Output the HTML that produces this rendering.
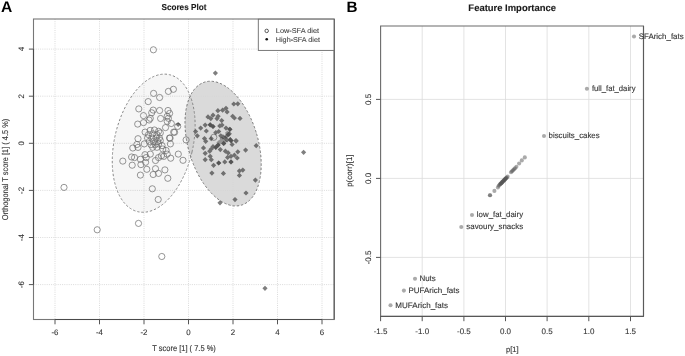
<!DOCTYPE html>
<html><head><meta charset="utf-8"><style>
html,body{margin:0;padding:0;background:#fff;}
body{width:685px;height:356px;overflow:hidden;font-family:"Liberation Sans",sans-serif;}
svg{display:block;text-rendering:geometricPrecision;}
#w{width:685px;height:356px;will-change:transform;}
</style></head><body><div id="w">
<svg width="685" height="356" viewBox="0 0 685 356">
<g>
<rect width="685" height="356" fill="#fff"/>
<g stroke="#d2d2d2" stroke-width="0.8" stroke-dasharray="1 1.2"><line x1="55.0" y1="19.0" x2="55.0" y2="319.5"/><line x1="99.5" y1="19.0" x2="99.5" y2="319.5"/><line x1="144.0" y1="19.0" x2="144.0" y2="319.5"/><line x1="188.5" y1="19.0" x2="188.5" y2="319.5"/><line x1="233.0" y1="19.0" x2="233.0" y2="319.5"/><line x1="277.5" y1="19.0" x2="277.5" y2="319.5"/><line x1="322.0" y1="19.0" x2="322.0" y2="319.5"/><line x1="33.5" y1="284.6" x2="334.2" y2="284.6"/><line x1="33.5" y1="237.5" x2="334.2" y2="237.5"/><line x1="33.5" y1="190.4" x2="334.2" y2="190.4"/><line x1="33.5" y1="143.3" x2="334.2" y2="143.3"/><line x1="33.5" y1="96.2" x2="334.2" y2="96.2"/><line x1="33.5" y1="49.1" x2="334.2" y2="49.1"/></g>
<ellipse cx="223.1" cy="143.6" rx="34.9" ry="64.2" transform="rotate(-16.5 223.1 143.6)" fill="#d3d3d3" fill-opacity="0.85" stroke="#7a7a7a" stroke-width="0.9" stroke-dasharray="2.4 1.9"/>
<ellipse cx="153.7" cy="143.2" rx="39.3" ry="70.3" transform="rotate(13 153.7 143.2)" fill="#000" fill-opacity="0.035" stroke="#868686" stroke-width="0.9" stroke-dasharray="2.4 1.9"/>
<g fill="none" stroke="#6a6a6a" stroke-width="0.7"><circle cx="153.6" cy="93.4" r="3.1"/><circle cx="159.6" cy="97.5" r="3.1"/><circle cx="168.4" cy="91.4" r="3.1"/><circle cx="173.4" cy="89.3" r="3.1"/><circle cx="148.2" cy="101.6" r="3.1"/><circle cx="138.8" cy="108.9" r="3.1"/><circle cx="153.2" cy="110.1" r="3.1"/><circle cx="159.6" cy="110.5" r="3.1"/><circle cx="168" cy="110.5" r="3.1"/><circle cx="151.7" cy="112.8" r="3.1"/><circle cx="143.5" cy="115.6" r="3.1"/><circle cx="169.6" cy="113.4" r="3.1"/><circle cx="150.3" cy="118.3" r="3.1"/><circle cx="160.6" cy="118.5" r="3.1"/><circle cx="167.2" cy="116.3" r="3.1"/><circle cx="168.4" cy="118.3" r="3.1"/><circle cx="149.1" cy="120" r="3.1"/><circle cx="137.7" cy="124.1" r="3.1"/><circle cx="143.5" cy="122.6" r="3.1"/><circle cx="167.2" cy="121.4" r="3.1"/><circle cx="171.3" cy="123.5" r="3.1"/><circle cx="165.5" cy="127.6" r="3.1"/><circle cx="174.6" cy="132.3" r="3.1"/><circle cx="177.7" cy="126.4" r="3.1"/><circle cx="170.1" cy="138.1" r="3.1"/><circle cx="170.4" cy="143.9" r="3.1"/><circle cx="186.1" cy="139.9" r="3.1"/><circle cx="150.2" cy="130.4" r="3.1"/><circle cx="154.4" cy="130" r="3.1"/><circle cx="158.6" cy="131.3" r="3.1"/><circle cx="148.5" cy="134.6" r="3.1"/><circle cx="152.7" cy="133.8" r="3.1"/><circle cx="156.9" cy="134.6" r="3.1"/><circle cx="160.3" cy="132.9" r="3.1"/><circle cx="147.6" cy="138" r="3.1"/><circle cx="151.8" cy="138" r="3.1"/><circle cx="156.1" cy="138" r="3.1"/><circle cx="159.4" cy="138" r="3.1"/><circle cx="149.3" cy="141.4" r="3.1"/><circle cx="153.5" cy="141.4" r="3.1"/><circle cx="157.7" cy="141.4" r="3.1"/><circle cx="160.3" cy="140.5" r="3.1"/><circle cx="151" cy="144.7" r="3.1"/><circle cx="155.2" cy="144.7" r="3.1"/><circle cx="158.6" cy="143.9" r="3.1"/><circle cx="152.7" cy="147.3" r="3.1"/><circle cx="156.9" cy="147.3" r="3.1"/><circle cx="162" cy="145.6" r="3.1"/><circle cx="162.8" cy="149" r="3.1"/><circle cx="145.1" cy="132.1" r="3.1"/><circle cx="144.3" cy="143.9" r="3.1"/><circle cx="138" cy="138.7" r="3.1"/><circle cx="136.9" cy="144.5" r="3.1"/><circle cx="132.8" cy="148" r="3.1"/><circle cx="138" cy="147.4" r="3.1"/><circle cx="166.1" cy="150.4" r="3.1"/><circle cx="169.5" cy="138" r="3.1"/><circle cx="173.7" cy="132.1" r="3.1"/><circle cx="122.8" cy="161.1" r="3.1"/><circle cx="131.6" cy="157" r="3.1"/><circle cx="134.5" cy="157.6" r="3.1"/><circle cx="132.2" cy="165.2" r="3.1"/><circle cx="140.4" cy="159.3" r="3.1"/><circle cx="140.9" cy="164.6" r="3.1"/><circle cx="145" cy="154.7" r="3.1"/><circle cx="146.2" cy="157.6" r="3.1"/><circle cx="145.6" cy="162.3" r="3.1"/><circle cx="150.3" cy="154.1" r="3.1"/><circle cx="146.8" cy="169.3" r="3.1"/><circle cx="140.4" cy="175.1" r="3.1"/><circle cx="155.5" cy="160.5" r="3.1"/><circle cx="158.5" cy="157.6" r="3.1"/><circle cx="161.4" cy="155.8" r="3.1"/><circle cx="163.7" cy="156.4" r="3.1"/><circle cx="167.2" cy="154.1" r="3.1"/><circle cx="170.7" cy="158.2" r="3.1"/><circle cx="178.3" cy="154.1" r="3.1"/><circle cx="183" cy="160.3" r="3.1"/><circle cx="155.5" cy="168.7" r="3.1"/><circle cx="153.2" cy="174.5" r="3.1"/><circle cx="158.5" cy="173.4" r="3.1"/><circle cx="164.9" cy="169.9" r="3.1"/><circle cx="167.8" cy="178.3" r="3.1"/><circle cx="152.3" cy="188.8" r="3.1"/><circle cx="158.2" cy="199.5" r="3.1"/><circle cx="153.4" cy="49.8" r="3.1"/><circle cx="64" cy="187.4" r="3.1"/><circle cx="97.2" cy="229.8" r="3.1"/><circle cx="138.5" cy="223.4" r="3.1"/><circle cx="161.8" cy="256.5" r="3.1"/><circle cx="213.8" cy="137.3" r="3.1"/></g>
<path fill="#2a2a2a" fill-opacity="0.6" d="M212.8 73.1L215.4 70.5L218.0 73.1L215.4 75.7ZM231.2 104.0L233.8 101.4L236.4 104.0L233.8 106.6ZM235.2 103.8L237.8 101.2L240.4 103.8L237.8 106.4ZM215.3 110.7L217.9 108.1L220.5 110.7L217.9 113.3ZM220.0 110.2L222.6 107.6L225.2 110.2L222.6 112.8ZM223.4 108.3L226.0 105.7L228.6 108.3L226.0 110.9ZM224.5 111.9L227.1 109.3L229.7 111.9L227.1 114.5ZM205.4 116.9L208.0 114.3L210.6 116.9L208.0 119.5ZM210.4 115.2L213.0 112.6L215.6 115.2L213.0 117.8ZM208.2 118.6L210.8 116.0L213.4 118.6L210.8 121.2ZM215.5 116.3L218.1 113.7L220.7 116.3L218.1 118.9ZM214.4 118.6L217.0 116.0L219.6 118.6L217.0 121.2ZM219.1 120.6L221.7 118.0L224.3 120.6L221.7 123.2ZM230.1 116.3L232.7 113.7L235.3 116.3L232.7 118.9ZM231.8 118.0L234.4 115.4L237.0 118.0L234.4 120.6ZM237.4 118.4L240.0 115.8L242.6 118.4L240.0 121.0ZM198.1 128.1L200.7 125.5L203.3 128.1L200.7 130.7ZM193.0 131.5L195.6 128.9L198.2 131.5L195.6 134.1ZM194.7 135.8L197.3 133.2L199.9 135.8L197.3 138.4ZM202.6 125.1L205.2 122.5L207.8 125.1L205.2 127.7ZM207.6 124.8L210.2 122.2L212.8 124.8L210.2 127.4ZM210.4 126.5L213.0 123.9L215.6 126.5L213.0 129.1ZM203.7 131.0L206.3 128.4L208.9 131.0L206.3 133.6ZM217.2 125.9L219.8 123.3L222.4 125.9L219.8 128.5ZM219.4 125.1L222.0 122.5L224.6 125.1L222.0 127.7ZM223.4 128.1L226.0 125.5L228.6 128.1L226.0 130.7ZM227.3 129.3L229.9 126.7L232.5 129.3L229.9 131.9ZM213.2 132.6L215.8 130.0L218.4 132.6L215.8 135.2ZM216.1 131.5L218.7 128.9L221.3 131.5L218.7 134.1ZM226.7 133.8L229.3 131.2L231.9 133.8L229.3 136.4ZM175.6 124.5L178.2 121.9L180.8 124.5L178.2 127.1ZM225.5 134.7L228.1 132.1L230.7 134.7L228.1 137.3ZM218.2 135.8L220.8 133.2L223.4 135.8L220.8 138.4ZM220.4 136.9L223.0 134.3L225.6 136.9L223.0 139.5ZM222.7 138.0L225.3 135.4L227.9 138.0L225.3 140.6ZM227.7 139.7L230.3 137.1L232.9 139.7L230.3 142.3ZM233.4 140.6L236.0 138.0L238.6 140.6L236.0 143.2ZM208.6 138.6L211.2 136.0L213.8 138.6L211.2 141.2ZM201.9 138.6L204.5 136.0L207.1 138.6L204.5 141.2ZM203.1 141.3L205.7 138.7L208.3 141.3L205.7 143.9ZM200.9 147.9L203.5 145.3L206.1 147.9L203.5 150.5ZM202.6 153.3L205.2 150.7L207.8 153.3L205.2 155.9ZM202.6 159.7L205.2 157.1L207.8 159.7L205.2 162.3ZM207.1 151.2L209.7 148.6L212.3 151.2L209.7 153.8ZM208.7 149.0L211.3 146.4L213.9 149.0L211.3 151.6ZM210.4 146.7L213.0 144.1L215.6 146.7L213.0 149.3ZM213.2 147.3L215.8 144.7L218.4 147.3L215.8 149.9ZM215.5 145.1L218.1 142.5L220.7 145.1L218.1 147.7ZM217.7 149.6L220.3 147.0L222.9 149.6L220.3 152.2ZM207.6 156.3L210.2 153.7L212.8 156.3L210.2 158.9ZM208.7 159.7L211.3 157.1L213.9 159.7L211.3 162.3ZM211.0 165.3L213.6 162.7L216.2 165.3L213.6 167.9ZM216.1 163.0L218.7 160.4L221.3 163.0L218.7 165.6ZM222.2 161.9L224.8 159.3L227.4 161.9L224.8 164.5ZM221.1 143.4L223.7 140.8L226.3 143.4L223.7 146.0ZM224.5 140.0L227.1 137.4L229.7 140.0L227.1 142.6ZM228.4 140.6L231.0 138.0L233.6 140.6L231.0 143.2ZM229.5 144.5L232.1 141.9L234.7 144.5L232.1 147.1ZM233.5 141.1L236.1 138.5L238.7 141.1L236.1 143.7ZM222.8 151.2L225.4 148.6L228.0 151.2L225.4 153.8ZM225.6 152.9L228.2 150.3L230.8 152.9L228.2 155.5ZM225.0 157.4L227.6 154.8L230.2 157.4L227.6 160.0ZM228.4 156.3L231.0 153.7L233.6 156.3L231.0 158.9ZM231.8 155.2L234.4 152.6L237.0 155.2L234.4 157.8ZM234.6 158.0L237.2 155.4L239.8 158.0L237.2 160.6ZM235.2 151.8L237.8 149.2L240.4 151.8L237.8 154.4ZM243.0 150.1L245.6 147.5L248.2 150.1L245.6 152.7ZM228.4 161.9L231.0 159.3L233.6 161.9L231.0 164.5ZM209.3 173.1L211.9 170.5L214.5 173.1L211.9 175.7ZM220.8 173.4L223.4 170.8L226.0 173.4L223.4 176.0ZM236.8 170.9L239.4 168.3L242.0 170.9L239.4 173.5ZM240.2 170.1L242.8 167.5L245.4 170.1L242.8 172.7ZM236.8 175.4L239.4 172.8L242.0 175.4L239.4 178.0ZM253.6 145.7L256.2 143.1L258.8 145.7L256.2 148.3ZM252.8 180.1L255.4 177.5L258.0 180.1L255.4 182.7ZM243.4 193.0L246.0 190.4L248.6 193.0L246.0 195.6ZM232.4 199.6L235.0 197.0L237.6 199.6L235.0 202.2ZM217.4 202.8L220.0 200.2L222.6 202.8L220.0 205.4ZM301.0 152.3L303.6 149.7L306.2 152.3L303.6 154.9ZM262.4 288.3L265.0 285.7L267.6 288.3L265.0 290.9Z"/>
<path fill="#2a2a2a" fill-opacity="0.4" d="M221.1 143.4L223.7 140.8L226.3 143.4L223.7 146.0ZM221.1 143.4L223.7 140.8L226.3 143.4L223.7 146.0ZM221.9 141.5L224.5 138.9L227.1 141.5L224.5 144.1ZM227.3 129.3L229.9 126.7L232.5 129.3L229.9 131.9ZM225.5 134.7L228.1 132.1L230.7 134.7L228.1 137.3ZM227.7 139.7L230.3 137.1L232.9 139.7L230.3 142.3ZM216.1 163.0L218.7 160.4L221.3 163.0L218.7 165.6ZM228.4 161.9L231.0 159.3L233.6 161.9L231.0 164.5ZM228.4 140.6L231.0 138.0L233.6 140.6L231.0 143.2ZM207.6 124.8L210.2 122.2L212.8 124.8L210.2 127.4ZM218.2 141.4L220.8 138.8L223.4 141.4L220.8 144.0ZM213.2 147.3L215.8 144.7L218.4 147.3L215.8 149.9ZM223.4 136.5L226.0 133.9L228.6 136.5L226.0 139.1ZM219.4 139.0L222.0 136.4L224.6 139.0L222.0 141.6ZM216.4 142.5L219.0 139.9L221.6 142.5L219.0 145.1ZM210.4 126.5L213.0 123.9L215.6 126.5L213.0 129.1ZM215.5 145.1L218.1 142.5L220.7 145.1L218.1 147.7ZM224.9 133.0L227.5 130.4L230.1 133.0L227.5 135.6Z"/>
<rect x="33.5" y="19.0" width="300.7" height="300.5" fill="none" stroke="#777" stroke-width="1.1"/>
<path d="M55.0 319.5H322.0M33.5 284.6V49.1" stroke="#4a4a4a" stroke-width="1.1" fill="none"/>
<path d="M334.2 19.0V319.5" stroke="#5a5a5a" stroke-width="1.1" fill="none"/>
<g stroke="#555" stroke-width="1"><line x1="55.0" y1="319.5" x2="55.0" y2="324.3"/><line x1="99.5" y1="319.5" x2="99.5" y2="324.3"/><line x1="144.0" y1="319.5" x2="144.0" y2="324.3"/><line x1="188.5" y1="319.5" x2="188.5" y2="324.3"/><line x1="233.0" y1="319.5" x2="233.0" y2="324.3"/><line x1="277.5" y1="319.5" x2="277.5" y2="324.3"/><line x1="322.0" y1="319.5" x2="322.0" y2="324.3"/><line x1="33.5" y1="284.6" x2="28.9" y2="284.6"/><line x1="33.5" y1="237.5" x2="28.9" y2="237.5"/><line x1="33.5" y1="190.4" x2="28.9" y2="190.4"/><line x1="33.5" y1="143.3" x2="28.9" y2="143.3"/><line x1="33.5" y1="96.2" x2="28.9" y2="96.2"/><line x1="33.5" y1="49.1" x2="28.9" y2="49.1"/></g>
<g font-family="Liberation Sans, sans-serif">
<g font-size="7.9" fill="#333" stroke="#333" stroke-width="0.1"><text x="55.0" y="334.5" text-anchor="middle">-6</text><text x="99.5" y="334.5" text-anchor="middle">-4</text><text x="144.0" y="334.5" text-anchor="middle">-2</text><text x="188.5" y="334.5" text-anchor="middle">0</text><text x="233.0" y="334.5" text-anchor="middle">2</text><text x="277.5" y="334.5" text-anchor="middle">4</text><text x="322.0" y="334.5" text-anchor="middle">6</text><text transform="translate(24.0 284.6) rotate(-90)" text-anchor="middle">-6</text><text transform="translate(24.0 237.5) rotate(-90)" text-anchor="middle">-4</text><text transform="translate(24.0 190.4) rotate(-90)" text-anchor="middle">-2</text><text transform="translate(24.0 143.3) rotate(-90)" text-anchor="middle">0</text><text transform="translate(24.0 96.2) rotate(-90)" text-anchor="middle">2</text><text transform="translate(24.0 49.1) rotate(-90)" text-anchor="middle">4</text></g>
<text x="152.24" y="350.80" font-size="8.4" textLength="63.63" lengthAdjust="spacingAndGlyphs" stroke="#333" stroke-width="0.12" fill="#333">T score [1] ( 7.5 %)</text>
<text transform="translate(8.20 220.25) rotate(-90)" x="0" y="0" font-size="8.4" textLength="101.51" lengthAdjust="spacingAndGlyphs" stroke="#333" stroke-width="0.12" fill="#333">Orthogonal T score [1] ( 4.5 %)</text>
<text x="161.46" y="10.00" font-size="8.6" textLength="44.93" lengthAdjust="spacingAndGlyphs" font-weight="bold" stroke="#1a1a1a" stroke-width="0.12" fill="#1a1a1a">Scores Plot</text>
<text x="0.91" y="11.70" font-size="15.4" textLength="11.30" lengthAdjust="spacingAndGlyphs" font-weight="bold" fill="#000">A</text>
<rect x="258.3" y="19.2" width="75.7" height="31.2" fill="#fff" stroke="#6a6a6a" stroke-width="0.9"/>
<circle cx="266.7" cy="30.9" r="1.75" fill="none" stroke="#333" stroke-width="0.8"/>
<circle cx="266.7" cy="39.3" r="1.3" fill="#111"/>
<text x="275.80" y="33.30" font-size="7.0" textLength="43.25" lengthAdjust="spacingAndGlyphs" stroke="#444" stroke-width="0.1" fill="#444">Low-SFA diet</text>
<text x="275.81" y="41.60" font-size="7.0" textLength="44.14" lengthAdjust="spacingAndGlyphs" stroke="#444" stroke-width="0.1" fill="#444">High-SFA diet</text>
</g>
<g stroke="#dcdcdc" stroke-width="0.8"><line x1="422.2" y1="26.0" x2="422.2" y2="316.4"/><line x1="463.9" y1="26.0" x2="463.9" y2="316.4"/><line x1="505.5" y1="26.0" x2="505.5" y2="316.4"/><line x1="547.1" y1="26.0" x2="547.1" y2="316.4"/><line x1="588.8" y1="26.0" x2="588.8" y2="316.4"/><line x1="630.5" y1="26.0" x2="630.5" y2="316.4"/><line x1="380.6" y1="257.4" x2="643.5" y2="257.4"/><line x1="380.6" y1="178.4" x2="643.5" y2="178.4"/><line x1="380.6" y1="99.4" x2="643.5" y2="99.4"/></g>
<g fill="#555" fill-opacity="0.5"><circle cx="490.0" cy="195.2" r="2.05"/><circle cx="490.0" cy="195.2" r="2.05"/><circle cx="494.4" cy="190.9" r="2.05"/><circle cx="497.9" cy="187.4" r="2.05"/><circle cx="498.8" cy="185.7" r="2.05"/><circle cx="499.6" cy="184.87" r="2.05"/><circle cx="500.4" cy="184.05" r="2.05"/><circle cx="501.2" cy="183.22" r="2.05"/><circle cx="502.0" cy="182.39" r="2.05"/><circle cx="502.8" cy="181.56" r="2.05"/><circle cx="503.6" cy="180.74" r="2.05"/><circle cx="504.4" cy="179.91" r="2.05"/><circle cx="505.2" cy="179.08" r="2.05"/><circle cx="506.0" cy="178.25" r="2.05"/><circle cx="506.8" cy="177.43" r="2.05"/><circle cx="507.6" cy="176.6" r="2.05"/><circle cx="500.4" cy="184.05" r="2.05"/><circle cx="501.2" cy="183.22" r="2.05"/><circle cx="502.0" cy="182.39" r="2.05"/><circle cx="502.8" cy="181.56" r="2.05"/><circle cx="503.6" cy="180.74" r="2.05"/><circle cx="504.4" cy="179.91" r="2.05"/><circle cx="505.2" cy="179.08" r="2.05"/><circle cx="506.0" cy="178.25" r="2.05"/><circle cx="511" cy="172.2" r="2.05"/><circle cx="512" cy="171.2" r="2.05"/><circle cx="513" cy="170.2" r="2.05"/><circle cx="514" cy="169.2" r="2.05"/><circle cx="515" cy="168.2" r="2.05"/><circle cx="516.4" cy="166.8" r="2.05"/><circle cx="519.1" cy="163.5" r="2.05"/><circle cx="521.8" cy="160.4" r="2.05"/><circle cx="524.8" cy="157.4" r="2.05"/><circle cx="634" cy="36.5" r="2.05"/><circle cx="586.9" cy="88.7" r="2.05"/><circle cx="544" cy="136" r="2.05"/><circle cx="472" cy="215" r="2.05"/><circle cx="461.3" cy="227" r="2.05"/><circle cx="415" cy="278.8" r="2.05"/><circle cx="403.9" cy="290.6" r="2.05"/><circle cx="390.5" cy="305.3" r="2.05"/></g>
<path d="M380.6 26.0H643.5V316.4H380.6Z" fill="none" stroke="#6a6a6a" stroke-width="1.1"/>
<path d="M380.6 316.4H643.5" stroke="#555" stroke-width="1.0" fill="none"/>
<path d="M643.5 26.0V316.4" stroke="#5a5a5a" stroke-width="1.1" fill="none"/>
<g stroke="#555" stroke-width="1"><line x1="380.6" y1="316.4" x2="380.6" y2="321.2"/><line x1="422.2" y1="316.4" x2="422.2" y2="321.2"/><line x1="463.9" y1="316.4" x2="463.9" y2="321.2"/><line x1="505.5" y1="316.4" x2="505.5" y2="321.2"/><line x1="547.1" y1="316.4" x2="547.1" y2="321.2"/><line x1="588.8" y1="316.4" x2="588.8" y2="321.2"/><line x1="630.5" y1="316.4" x2="630.5" y2="321.2"/><line x1="380.6" y1="257.4" x2="376.0" y2="257.4"/><line x1="380.6" y1="178.4" x2="376.0" y2="178.4"/><line x1="380.6" y1="99.4" x2="376.0" y2="99.4"/></g>
<g font-family="Liberation Sans, sans-serif">
<g font-size="8.0" fill="#333" stroke="#333" stroke-width="0.1"><text x="380.6" y="334.2" text-anchor="middle">-1.5</text><text x="422.2" y="334.2" text-anchor="middle">-1.0</text><text x="463.9" y="334.2" text-anchor="middle">-0.5</text><text x="505.5" y="334.2" text-anchor="middle">0.0</text><text x="547.1" y="334.2" text-anchor="middle">0.5</text><text x="588.8" y="334.2" text-anchor="middle">1.0</text><text x="630.5" y="334.2" text-anchor="middle">1.5</text><text transform="translate(370.5 257.4) rotate(-90)" text-anchor="middle">-0.5</text><text transform="translate(370.5 178.4) rotate(-90)" text-anchor="middle">0.0</text><text transform="translate(370.5 99.4) rotate(-90)" text-anchor="middle">0.5</text></g>
<text x="505.90" y="352.40" font-size="7.7" textLength="12.74" lengthAdjust="spacingAndGlyphs" stroke="#333" stroke-width="0.12" fill="#333">p[1]</text>
<text transform="translate(351.70 186.82) rotate(-90)" x="0" y="0" font-size="7.9" textLength="32.39" lengthAdjust="spacingAndGlyphs" stroke="#333" stroke-width="0.12" fill="#333">p(corr)[1]</text>
<text x="638.74" y="38.90" font-size="8.0" textLength="44.95" lengthAdjust="spacingAndGlyphs" stroke="#333" stroke-width="0.12" fill="#333">SFArich_fats</text>
<text x="591.89" y="90.80" font-size="8.0" textLength="43.62" lengthAdjust="spacingAndGlyphs" stroke="#333" stroke-width="0.12" fill="#333">full_fat_dairy</text>
<text x="548.59" y="138.40" font-size="8.0" textLength="51.09" lengthAdjust="spacingAndGlyphs" stroke="#333" stroke-width="0.12" fill="#333">biscuits_cakes</text>
<text x="476.87" y="217.40" font-size="8.0" textLength="46.24" lengthAdjust="spacingAndGlyphs" stroke="#333" stroke-width="0.12" fill="#333">low_fat_dairy</text>
<text x="466.28" y="229.40" font-size="8.0" textLength="56.91" lengthAdjust="spacingAndGlyphs" stroke="#333" stroke-width="0.12" fill="#333">savoury_snacks</text>
<text x="419.45" y="281.20" font-size="8.0" textLength="16.34" lengthAdjust="spacingAndGlyphs" stroke="#333" stroke-width="0.12" fill="#333">Nuts</text>
<text x="408.55" y="293.00" font-size="8.0" textLength="50.94" lengthAdjust="spacingAndGlyphs" stroke="#333" stroke-width="0.12" fill="#333">PUFArich_fats</text>
<text x="395.34" y="307.90" font-size="8.0" textLength="52.75" lengthAdjust="spacingAndGlyphs" stroke="#333" stroke-width="0.12" fill="#333">MUFArich_fats</text>
<text x="468.37" y="10.70" font-size="9.5" textLength="87.66" lengthAdjust="spacingAndGlyphs" font-weight="bold" stroke="#1a1a1a" stroke-width="0.12" fill="#1a1a1a">Feature Importance</text>
<text x="346.48" y="11.55" font-size="15.0" textLength="11.01" lengthAdjust="spacingAndGlyphs" font-weight="bold" fill="#000">B</text>
</g>
</g>
</svg>
</div></body></html>
